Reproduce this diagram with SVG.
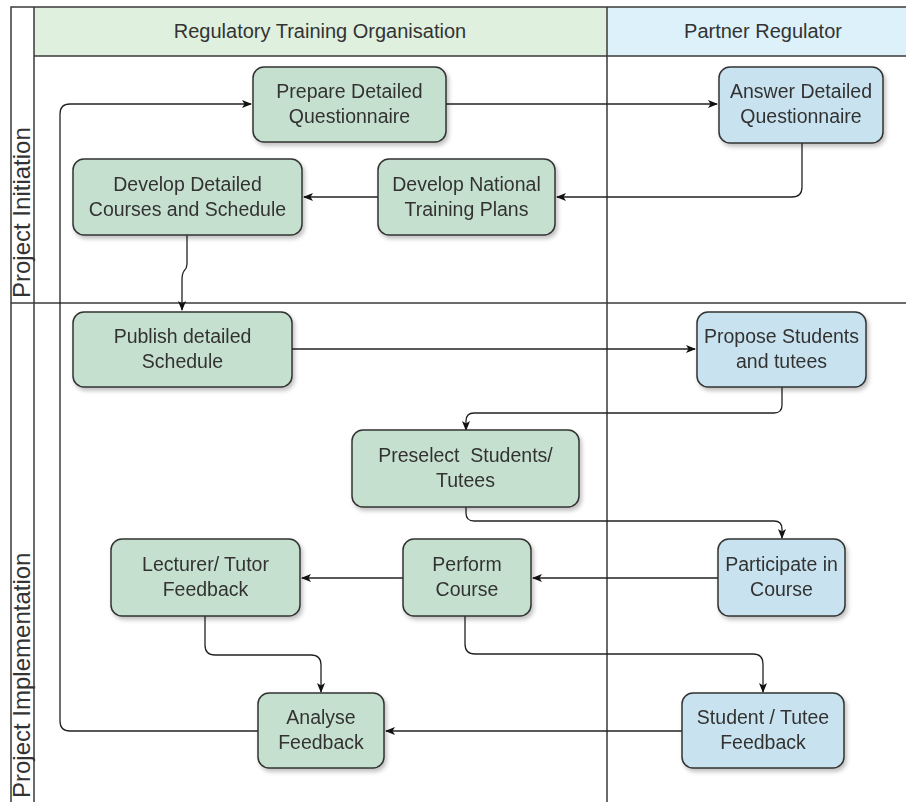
<svg xmlns="http://www.w3.org/2000/svg" width="906" height="802" viewBox="0 0 906 802">
<style>
.frame{stroke:#3a3a3a;stroke-width:1.5;fill:none}
.hdr{font-family:"Liberation Sans",Arial,sans-serif;font-size:20px;fill:#333;text-anchor:middle}
.phase{font-family:"Liberation Sans",Arial,sans-serif;font-size:24px;fill:#333}
.node rect{stroke:#333;stroke-width:1.5}
.g rect{fill:#c6e0cf}
.b rect{fill:#c8e3ef}
.node text{font-family:"Liberation Sans",Arial,sans-serif;font-size:19.5px;fill:#333;text-anchor:middle;white-space:pre}
.conn path{fill:none;stroke:#222;stroke-width:1.3}
</style>
<defs>
<marker id="arr" markerWidth="10" markerHeight="8" refX="9" refY="4" orient="auto" markerUnits="userSpaceOnUse">
<path d="M0,0 L10,4 L0,8 L2.5,4 Z" fill="#111"/>
</marker>
<filter id="sh" x="-10%" y="-10%" width="125%" height="130%">
<feDropShadow dx="2" dy="3" stdDeviation="2" flood-color="#000" flood-opacity="0.25"/>
</filter>
</defs>
<rect x="0" y="0" width="906" height="802" fill="#fff"/>
<g id="lanes">
<rect x="34" y="7" width="573" height="49" fill="#dff0df"/>
<rect x="607" y="7" width="299" height="49" fill="#dcf1fa"/>
<path class="frame" d="M11,802 V7 H906 M34,7 V802 M34,56 H906 M11,303 H906 M607,7 V802"/>
<text class="hdr" x="320" y="38">Regulatory Training Organisation</text>
<text class="hdr" x="763" y="38">Partner Regulator</text>
<text class="phase" transform="translate(30,298) rotate(-90)">Project Initiation</text>
<text class="phase" transform="translate(30,798) rotate(-90)">Project Implementation</text>
</g>
<g id="connectors" class="conn">
<path d="M445,104 H717" marker-end="url(#arr)"/>
<path d="M802,143 V187 Q802,197 792,197 H557" marker-end="url(#arr)"/>
<path d="M378,197 H304" marker-end="url(#arr)"/>
<path d="M187,235 V264 Q187,268 184,271 Q182,274 182,280 V310" marker-end="url(#arr)"/>
<path d="M292,349 H695" marker-end="url(#arr)"/>
<path d="M782,387 V405 Q782,413 774,413 H474 Q466,413 466,421 V430" marker-end="url(#arr)"/>
<path d="M466,507 V513 Q466,521 474,521 H774 Q782,521 782,529 V538" marker-end="url(#arr)"/>
<path d="M718,578 H533" marker-end="url(#arr)"/>
<path d="M403,578 H302" marker-end="url(#arr)"/>
<path d="M205,616 V645 Q205,655 215,655 H311 Q321,655 321,665 V692" marker-end="url(#arr)"/>
<path d="M465,616 V644 Q465,654 475,654 H753 Q763,654 763,664 V692" marker-end="url(#arr)"/>
<path d="M682,731 H386" marker-end="url(#arr)"/>
<path d="M258,731 H70 Q60,731 60,721 V114 Q60,104 70,104 H251" marker-end="url(#arr)"/>
</g>
<g id="n1" class="node g" filter="url(#sh)"><rect x="253" y="67" width="193" height="75" rx="11"/><text x="349.5" y="98">Prepare Detailed</text><text x="349.5" y="123">Questionnaire</text></g>
<g id="n2" class="node b" filter="url(#sh)"><rect x="719" y="67" width="164" height="76" rx="11"/><text x="801" y="98">Answer Detailed</text><text x="801" y="123">Questionnaire</text></g>
<g id="n3" class="node g" filter="url(#sh)"><rect x="378" y="159" width="177" height="76" rx="11"/><text x="466.5" y="191">Develop National</text><text x="466.5" y="216">Training Plans</text></g>
<g id="n4" class="node g" filter="url(#sh)"><rect x="73" y="159" width="229" height="76" rx="11"/><text x="187.5" y="191">Develop Detailed</text><text x="187.5" y="216">Courses and Schedule</text></g>
<g id="n5" class="node g" filter="url(#sh)"><rect x="73" y="312" width="219" height="75" rx="11"/><text x="182.5" y="343">Publish detailed</text><text x="182.5" y="368">Schedule</text></g>
<g id="n6" class="node b" filter="url(#sh)"><rect x="697" y="312" width="169" height="75" rx="11"/><text x="781.5" y="343">Propose Students</text><text x="781.5" y="368">and tutees</text></g>
<g id="n7" class="node g" filter="url(#sh)"><rect x="352" y="430" width="227" height="77" rx="11"/><text x="465.5" y="462">Preselect  Students/</text><text x="465.5" y="487">Tutees</text></g>
<g id="n8" class="node b" filter="url(#sh)"><rect x="718" y="539" width="127" height="77" rx="11"/><text x="781.5" y="571">Participate in</text><text x="781.5" y="596">Course</text></g>
<g id="n9" class="node g" filter="url(#sh)"><rect x="403" y="539" width="128" height="77" rx="11"/><text x="467" y="571">Perform</text><text x="467" y="596">Course</text></g>
<g id="n10" class="node g" filter="url(#sh)"><rect x="111" y="539" width="189" height="77" rx="11"/><text x="205.5" y="571">Lecturer/ Tutor</text><text x="205.5" y="596">Feedback</text></g>
<g id="n11" class="node g" filter="url(#sh)"><rect x="258" y="693" width="126" height="75" rx="11"/><text x="321" y="724">Analyse</text><text x="321" y="749">Feedback</text></g>
<g id="n12" class="node b" filter="url(#sh)"><rect x="682" y="693" width="162" height="75" rx="11"/><text x="763" y="724">Student / Tutee</text><text x="763" y="749">Feedback</text></g>
</svg>
